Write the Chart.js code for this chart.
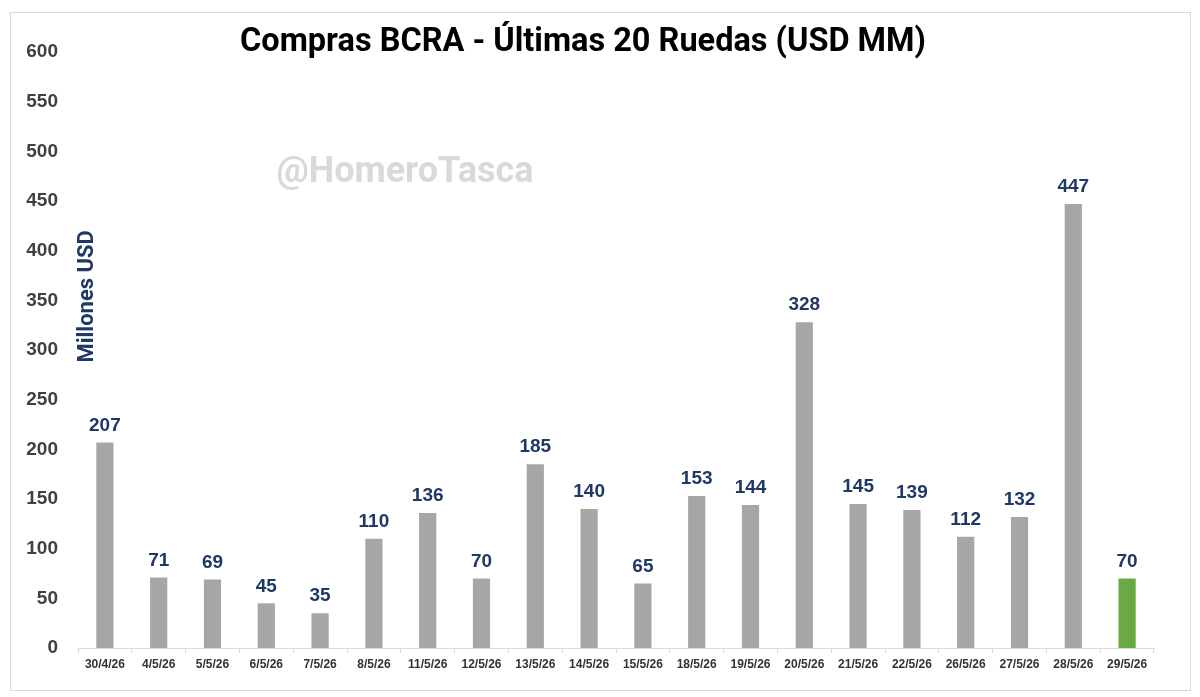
<!DOCTYPE html>
<html>
<head>
<meta charset="utf-8">
<script src="https://cdn.jsdelivr.net/npm/chart.js@4.4.1/dist/chart.umd.min.js"></script>
<style>
html,body{margin:0;padding:0;background:#fff;}
#wrap{width:1200px;height:697px;}
</style>
</head>
<body>
<div id="wrap"><canvas id="c" width="1200" height="697"></canvas></div>
<script>
const categories = ['30/4/26','4/5/26','5/5/26','6/5/26','7/5/26','8/5/26','11/5/26','12/5/26','13/5/26','14/5/26','15/5/26','18/5/26','19/5/26','20/5/26','21/5/26','22/5/26','26/5/26','27/5/26','28/5/26','29/5/26'];
const purchases = [207,71,69,45,35,110,136,70,185,140,65,153,144,328,145,139,112,132,447,70];
const yTicks = [0,50,100,150,200,250,300,350,400,450,500,550,600];
const titleText = 'Compras BCRA - Últimas 20 Ruedas (USD MM)';
const yTitle = 'Millones USD';
const watermark = '@HomeroTasca';

const GREY = '#A6A6A6';
const GREEN = '#6AAA45';
const NAVY = '#1F3864';
const barColors = purchases.map((v,i)=> i === purchases.length-1 ? GREEN : GREY);

const decor = {
  id:'decor',
  beforeDraw(chart){
    const ctx = chart.ctx;
    ctx.save();
    ctx.fillStyle='#fff';
    ctx.fillRect(0,0,chart.width,chart.height);
    ctx.strokeStyle='#d9d9d9';
    ctx.lineWidth=1;
    ctx.strokeRect(10.5,12.5,1180,678);
    // watermark
    ctx.fillStyle='#d9d9d9';
    ctx.font='bold 36px Roboto';
    ctx.textAlign='center';
    ctx.textBaseline='middle';
    ctx.fillText(watermark,405,173);
    ctx.restore();
  },
  afterDatasetsDraw(chart){
    const ctx = chart.ctx;
    const meta = chart.getDatasetMeta(0);
    ctx.save();
    ctx.fillStyle=NAVY;
    ctx.font='bold 19px "Liberation Sans", Arial, sans-serif';
    ctx.textAlign='center';
    ctx.textBaseline='middle';
    meta.data.forEach((bar,i)=>{
      ctx.fillText(String(purchases[i]), bar.x, bar.y-17);
    });
    // y axis title
    const ya = chart.scales.y;
    ctx.translate(87, ya.getPixelForValue(354));
    ctx.rotate(-Math.PI/2);
    ctx.font='bold 22px Roboto, "Liberation Sans", sans-serif';
    ctx.fillText(yTitle,0,0);
    ctx.restore();
  }
};

new Chart(document.getElementById('c'),{
  type:'bar',
  data:{
    labels:categories,
    datasets:[{data:purchases, backgroundColor:barColors, categoryPercentage:1, barPercentage:0.32}]
  },
  options:{
    responsive:false,
    animation:false,
    devicePixelRatio:1,
    layout:{padding:{left:12,right:46,top:0,bottom:19}},
    plugins:{
      legend:{display:false},
      tooltip:{enabled:false},
      title:{display:true,text:titleText,color:'#000',font:{family:'Roboto',size:32.5,weight:'bold',lineHeight:1.2},padding:{top:23,bottom:-10}}
    },
    scales:{
      y:{
        min:0,max:600,
        afterBuildTicks(s){ s.ticks = yTicks.map(v=>({value:v})); },
        afterFit(s){ s.width=66; },
        grid:{display:false,drawTicks:false},
        border:{display:false},
        ticks:{color:'#404040',padding:20,font:{family:'"Liberation Sans", Arial, sans-serif',size:19,weight:'bold'}}
      },
      x:{
        afterFit(s){ s.height=30; },
        grid:{display:true,drawOnChartArea:false,drawTicks:true,tickLength:5,offset:true,color:'#d9d9d9'},
        border:{display:true,color:'#d9d9d9'},
        ticks:{color:'#333',padding:4,maxRotation:0,autoSkip:false,font:{family:'"Liberation Sans", Arial, sans-serif',size:12,weight:'bold'}}
      }
    }
  },
  plugins:[decor]
});
</script>
</body>
</html>
